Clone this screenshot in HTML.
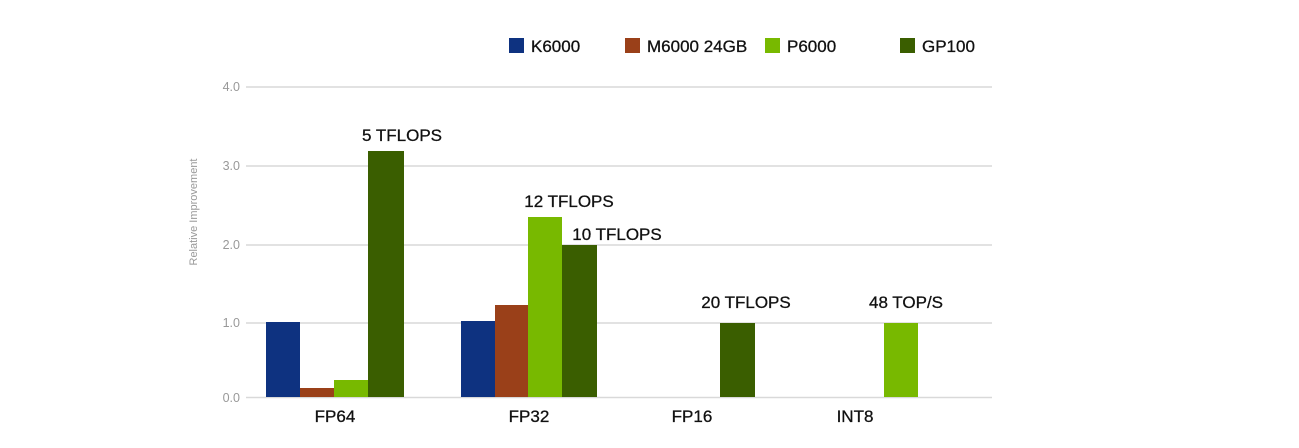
<!DOCTYPE html>
<html><head><meta charset="utf-8"><style>
html,body{margin:0;padding:0;background:#fff;}
svg{display:block;font-family:"Liberation Sans",sans-serif;}
</style></head><body>
<svg width="1299" height="448" viewBox="0 0 1299 448" xmlns="http://www.w3.org/2000/svg">
<g stroke="#d9d9d9" stroke-width="1.5">
<line x1="246" y1="87" x2="992" y2="87"/>
<line x1="246" y1="166" x2="992" y2="166"/>
<line x1="246" y1="245" x2="992" y2="245"/>
<line x1="246" y1="323" x2="992" y2="323"/>
<line x1="246" y1="397.5" x2="992" y2="397.5"/>
</g>
<g fill="#999" font-size="12.5" text-anchor="end">
<text x="240" y="91">4.0</text>
<text x="240" y="170">3.0</text>
<text x="240" y="249">2.0</text>
<text x="240" y="327">1.0</text>
<text x="240" y="402">0.0</text>
</g>
<text transform="translate(197,212) rotate(-90)" fill="#999" font-size="11" text-anchor="middle">Relative Improvement</text>
<rect x="266" y="322" width="34" height="75" fill="#0e3280"/>
<rect x="300" y="388" width="34" height="9" fill="#9a4019"/>
<rect x="334" y="380" width="34" height="17" fill="#78b900"/>
<rect x="368" y="151" width="36" height="246" fill="#3a5e00"/>
<rect x="461" y="321" width="34" height="76" fill="#0e3280"/>
<rect x="495" y="305" width="33" height="92" fill="#9a4019"/>
<rect x="528" y="217" width="34" height="180" fill="#78b900"/>
<rect x="562" y="245" width="35" height="152" fill="#3a5e00"/>
<rect x="720" y="323" width="35" height="74" fill="#3a5e00"/>
<rect x="884" y="323" width="34" height="74" fill="#78b900"/>
<g fill="#111" font-size="17" text-anchor="middle" stroke="#111" stroke-width="0.3">
<text x="335" y="422">FP64</text>
<text x="529" y="422">FP32</text>
<text x="692" y="422">FP16</text>
<text x="855" y="422">INT8</text>
<text x="402" y="141">5 TFLOPS</text>
<text x="569" y="207">12 TFLOPS</text>
<text x="617" y="240">10 TFLOPS</text>
<text x="746" y="308">20 TFLOPS</text>
<text x="906" y="308">48 TOP/S</text>
</g>
<g font-size="17" fill="#111" stroke-width="0.3">
<rect x="509" y="38" width="15" height="15" fill="#0e3280"/>
<text x="531" y="52" stroke="#111">K6000</text>
<rect x="625" y="38" width="15" height="15" fill="#9a4019"/>
<text x="647" y="52" stroke="#111">M6000 24GB</text>
<rect x="765" y="38" width="15" height="15" fill="#78b900"/>
<text x="787" y="52" stroke="#111">P6000</text>
<rect x="900" y="38" width="15" height="15" fill="#3a5e00"/>
<text x="922" y="52" stroke="#111">GP100</text>
</g>
</svg>
</body></html>
